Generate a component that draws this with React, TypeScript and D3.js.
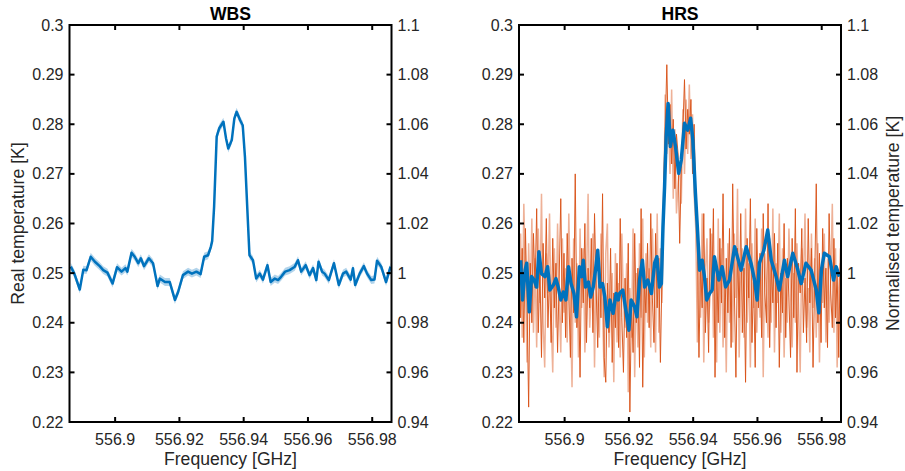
import React from 'react';
import * as d3 from 'd3';

// axes
const freqDomain = [556.8858, 556.986];
const tempDomain = [0.22, 0.3];
const normDomain = [0.94, 1.1];
const freqTicks = [556.9, 556.92, 556.94, 556.96, 556.98];
const tempTicks = [0.22, 0.23, 0.24, 0.25, 0.26, 0.27, 0.28, 0.29, 0.3];
const normTicks = [0.94, 0.96, 0.98, 1, 1.02, 1.04, 1.06, 1.08, 1.1];

// WBS spectrum (GHz, K)
const wbsFreq = [
  556.8862, 556.8873, 556.889, 556.8901, 556.8911, 556.8924, 556.8937, 556.8952, 556.8963, 556.8976,
  556.8992, 556.9006, 556.902, 556.9032, 556.9038, 556.9051, 556.9061, 556.9072, 556.908, 556.909,
  556.9105, 556.9118, 556.9132, 556.9139, 556.9155, 556.917, 556.9186, 556.9196, 556.9211, 556.9227,
  556.9239, 556.9253, 556.9266, 556.9277, 556.9289, 556.9298, 556.9302, 556.9308, 556.9316, 556.9324,
  556.9337, 556.9345, 556.9352, 556.9363, 556.9371, 556.9378, 556.9389, 556.9397, 556.9404, 556.9411,
  556.9418, 556.9429, 556.9439, 556.945, 556.946, 556.9474, 556.9484, 556.9497, 556.9507, 556.9517,
  556.9529, 556.9543, 556.9559, 556.9569, 556.9579, 556.9593, 556.9605, 556.9616, 556.9626, 556.9633,
  556.9644, 556.9652, 556.9665, 556.9681, 556.9696, 556.9709, 556.9719, 556.9733, 556.974, 556.9747,
  556.9761, 556.9774, 556.9784, 556.9797, 556.9807, 556.9815, 556.9828, 556.9843, 556.9857,
];
const wbsTemp = [
  0.2513, 0.2499, 0.2467, 0.2507, 0.2506, 0.2533, 0.2523, 0.2514, 0.2506, 0.2501,
  0.2479, 0.2512, 0.2503, 0.251, 0.2503, 0.2541, 0.2533, 0.252, 0.253, 0.2514,
  0.253, 0.252, 0.2474, 0.2489, 0.2482, 0.2482, 0.2446, 0.2462, 0.2496, 0.2503,
  0.2499, 0.2503, 0.2498, 0.2533, 0.2536, 0.2553, 0.2565, 0.2634, 0.2775, 0.2792,
  0.2805, 0.2772, 0.2751, 0.2768, 0.2812, 0.2825, 0.2808, 0.2798, 0.2734, 0.2634,
  0.2536, 0.2526, 0.2489, 0.2499, 0.2487, 0.2516, 0.2482, 0.2489, 0.2486, 0.2493,
  0.2503, 0.2506, 0.2513, 0.2526, 0.2503, 0.2516, 0.2496, 0.251, 0.2486, 0.2523,
  0.2503, 0.2499, 0.2486, 0.252, 0.2476, 0.2499, 0.2503, 0.2487, 0.251, 0.2476,
  0.2499, 0.2514, 0.2499, 0.2486, 0.2487, 0.2525, 0.2513, 0.2482, 0.2513,
];
const wbsSigma = 0.0008;

// HRS averaged spectrum (GHz, K)
const hrsAvgFreq = [
  556.8863, 556.8869, 556.8877, 556.8882, 556.889, 556.8897, 556.8905, 556.8913, 556.892, 556.8928,
  556.8939, 556.8947, 556.8954, 556.8965, 556.8973, 556.898, 556.8988, 556.8996, 556.9004, 556.9012,
  556.902, 556.9029, 556.9037, 556.9046, 556.9053, 556.9058, 556.9065, 556.9074, 556.9081, 556.9089,
  556.9096, 556.9103, 556.911, 556.9118, 556.9125, 556.9133, 556.9141, 556.9151, 556.916, 556.9167,
  556.9171, 556.9181, 556.9192, 556.92, 556.9207, 556.9218, 556.9225, 556.9233, 556.9242, 556.9249,
  556.9259, 556.927, 556.928, 556.9287, 556.9295, 556.9301, 556.9306, 556.9311, 556.9316, 556.9322,
  556.9329, 556.9337, 556.9345, 556.9355, 556.9363, 556.9373, 556.9383, 556.9392, 556.9399, 556.9407,
  556.9414, 556.942, 556.9428, 556.9435, 556.9442, 556.9451, 556.9459, 556.9466, 556.948, 556.949,
  556.9501, 556.9513, 556.9529, 556.9549, 556.9565, 556.958, 556.9591, 556.9599, 556.9606, 556.962,
  556.9632, 556.9643, 556.9658, 556.9668, 556.9684, 556.9694, 556.971, 556.9723, 556.9736, 556.9751,
  556.9767, 556.9783, 556.9791, 556.9799, 556.9808, 556.9824, 556.9837, 556.9845, 556.9855,
];
const hrsAvgTemp = [
  0.2526, 0.2446, 0.2506, 0.252, 0.2422, 0.2493, 0.2486, 0.2472, 0.2543, 0.2499,
  0.2493, 0.2513, 0.2466, 0.2476, 0.2489, 0.2472, 0.2446, 0.2462, 0.2446, 0.2513,
  0.2479, 0.2459, 0.2412, 0.2513, 0.2493, 0.2526, 0.2472, 0.2482, 0.2452, 0.2472,
  0.2506, 0.2546, 0.2472, 0.2479, 0.2452, 0.2392, 0.2446, 0.2419, 0.2459, 0.2446,
  0.2459, 0.2466, 0.2419, 0.2385, 0.2446, 0.2432, 0.2412, 0.2486, 0.2526, 0.2472,
  0.2486, 0.2459, 0.252, 0.2533, 0.2472, 0.2479, 0.2593, 0.2674, 0.2775, 0.2842,
  0.2755, 0.2788, 0.2755, 0.2701, 0.2728, 0.2802, 0.2788, 0.2812, 0.2768, 0.2661,
  0.258, 0.2506, 0.2526, 0.2493, 0.2446, 0.2459, 0.2466, 0.2533, 0.2486, 0.2513,
  0.2472, 0.2486, 0.2553, 0.2506, 0.2553, 0.252, 0.2486, 0.2446, 0.252, 0.2546,
  0.2587, 0.2526, 0.2493, 0.2466, 0.2526, 0.2493, 0.254, 0.2513, 0.2479, 0.252,
  0.2506, 0.2466, 0.242, 0.2506, 0.254, 0.2533, 0.2486, 0.2513, 0.2493,
];

// HRS individual spectra on the channel grid
const hrsChanStart = 556.8858;
const hrsChanStep = 0.0005;
const hrsRawA = [
  0.262, 0.241, 0.255, 0.236, 0.259, 0.244, 0.223, 0.252, 0.24, 0.258,
  0.247, 0.263, 0.238, 0.251, 0.233, 0.256, 0.245, 0.261, 0.239, 0.25,
  0.236, 0.257, 0.243, 0.252, 0.234, 0.249, 0.265, 0.24, 0.254, 0.237,
  0.258, 0.246, 0.233, 0.253, 0.242, 0.27, 0.239, 0.249, 0.229, 0.255,
  0.244, 0.26, 0.236, 0.251, 0.243, 0.257, 0.238, 0.262, 0.247, 0.235,
  0.253, 0.241, 0.266, 0.233, 0.228, 0.248, 0.238, 0.255, 0.232, 0.246,
  0.239, 0.252, 0.235, 0.261, 0.241, 0.23, 0.249, 0.237, 0.256, 0.222,
  0.244, 0.234, 0.258, 0.24, 0.251, 0.231, 0.263, 0.227, 0.248, 0.242,
  0.256, 0.239, 0.262, 0.245, 0.236, 0.258, 0.243, 0.253, 0.232, 0.25,
  0.268, 0.279, 0.292, 0.276, 0.284, 0.272, 0.281, 0.267, 0.278, 0.274,
  0.256, 0.271, 0.279, 0.289, 0.275, 0.283, 0.278, 0.285, 0.27, 0.28,
  0.265, 0.255, 0.233, 0.252, 0.243, 0.262, 0.238, 0.249, 0.234, 0.259,
  0.246, 0.263, 0.229, 0.251, 0.24, 0.257, 0.244, 0.266, 0.237, 0.253,
  0.242, 0.259, 0.235, 0.268, 0.247, 0.229, 0.255, 0.241, 0.262, 0.238,
  0.251, 0.228, 0.257, 0.245, 0.265, 0.236, 0.249, 0.231, 0.259, 0.243,
  0.254, 0.237, 0.262, 0.246, 0.24, 0.264, 0.235, 0.252, 0.244, 0.258,
  0.239, 0.256, 0.231, 0.25, 0.242, 0.26, 0.237, 0.253, 0.245, 0.233,
  0.257, 0.241, 0.263, 0.23, 0.252, 0.246, 0.259, 0.238, 0.249, 0.236,
  0.261, 0.244, 0.255, 0.231, 0.248, 0.268, 0.24, 0.254, 0.236, 0.259,
  0.243, 0.251, 0.235, 0.262, 0.246, 0.239, 0.257, 0.241, 0.25, 0.233,
  0.255,
];
const hrsRawB = [
  0.245, 0.258, 0.237, 0.264, 0.249, 0.232, 0.256, 0.243, 0.261, 0.238,
  0.253, 0.235, 0.259, 0.244, 0.266, 0.24, 0.231, 0.254, 0.246, 0.262,
  0.241, 0.23, 0.255, 0.239, 0.26, 0.245, 0.234, 0.257, 0.242, 0.251,
  0.236, 0.262, 0.244, 0.227, 0.257, 0.24, 0.252, 0.233, 0.259, 0.243,
  0.255, 0.234, 0.248, 0.266, 0.239, 0.246, 0.258, 0.231, 0.252, 0.241,
  0.237, 0.258, 0.243, 0.229, 0.254, 0.26, 0.235, 0.243, 0.25, 0.228,
  0.254, 0.236, 0.248, 0.233, 0.258, 0.244, 0.239, 0.252, 0.226, 0.247,
  0.237, 0.259, 0.229, 0.25, 0.235, 0.256, 0.241, 0.261, 0.233, 0.254,
  0.24, 0.251, 0.235, 0.259, 0.247, 0.234, 0.262, 0.238, 0.255, 0.244,
  0.262, 0.286, 0.274, 0.282, 0.27, 0.287, 0.265, 0.279, 0.262, 0.268,
  0.272, 0.264, 0.283, 0.27, 0.285, 0.274, 0.288, 0.273, 0.282, 0.266,
  0.259, 0.236, 0.256, 0.241, 0.262, 0.232, 0.25, 0.257, 0.24, 0.246,
  0.258, 0.237, 0.253, 0.232, 0.261, 0.238, 0.255, 0.235, 0.249, 0.23,
  0.256, 0.24, 0.251, 0.236, 0.258, 0.245, 0.267, 0.233, 0.248, 0.255,
  0.237, 0.263, 0.24, 0.252, 0.231, 0.256, 0.243, 0.261, 0.238, 0.25,
  0.241, 0.259, 0.229, 0.254, 0.247, 0.237, 0.257, 0.24, 0.263, 0.234,
  0.252, 0.244, 0.262, 0.238, 0.255, 0.233, 0.249, 0.24, 0.259, 0.246,
  0.235, 0.25, 0.24, 0.256, 0.243, 0.23, 0.255, 0.248, 0.262, 0.239,
  0.247, 0.234, 0.258, 0.243, 0.253, 0.237, 0.256, 0.232, 0.25, 0.244,
  0.258, 0.236, 0.253, 0.24, 0.249, 0.264, 0.238, 0.255, 0.231, 0.247,
  0.252,
];

const BLUE = '#0072BD';
const ORANGE = '#D95319';
const FONT = '"Liberation Sans", Arial, Helvetica, sans-serif';

const TOP = 25;
const BOTTOM = 422;

const fmt = (v: number) => String(+v.toFixed(2));

type Pt = [number, number];

const Panel = ({ id, left, right, title, yLabel, yLabelSide, children }: any) => {
  const x = d3.scaleLinear().domain(freqDomain).range([left, right]);
  const y = d3.scaleLinear().domain(tempDomain).range([BOTTOM, TOP]);
  const yn = d3.scaleLinear().domain(normDomain).range([BOTTOM, TOP]);
  const tick = 5;
  return (
    <g>
      <defs>
        <clipPath id={id}>
          <rect x={left} y={TOP} width={right - left} height={BOTTOM - TOP} />
        </clipPath>
      </defs>
      <g clipPath={`url(#${id})`}>{children(x, y)}</g>
      {/* frame */}
      <rect x={left} y={TOP} width={right - left} height={BOTTOM - TOP} fill="none" stroke="#000" strokeWidth={2} />
      {/* x ticks */}
      {freqTicks.map(t => (
        <g key={'x' + t}>
          <line x1={x(t)} x2={x(t)} y1={BOTTOM} y2={BOTTOM - tick} stroke="#000" strokeWidth={2} />
          <line x1={x(t)} x2={x(t)} y1={TOP} y2={TOP + tick} stroke="#000" strokeWidth={2} />
          <text x={x(t)} y={444.5} textAnchor="middle" fontSize={16} fontFamily={FONT} fill="#262626">{fmt(t)}</text>
        </g>
      ))}
      {tempTicks.map(t => (
        <g key={'y' + t}>
          <line x1={left} x2={left + tick} y1={y(t)} y2={y(t)} stroke="#000" strokeWidth={2} />
          <text x={left - 6} y={y(t)} dy="0.35em" textAnchor="end" fontSize={16} fontFamily={FONT} fill="#262626">{fmt(t)}</text>
        </g>
      ))}
      {normTicks.map(t => (
        <g key={'n' + t}>
          <line x1={right} x2={right - tick} y1={yn(t)} y2={yn(t)} stroke="#000" strokeWidth={2} />
          <text x={right + 6} y={yn(t)} dy="0.35em" textAnchor="start" fontSize={16} fontFamily={FONT} fill="#262626">{fmt(t)}</text>
        </g>
      ))}
      <text x={(left + right) / 2} y={20} textAnchor="middle" fontSize={17.6} fontWeight="bold" fontFamily={FONT} fill="#000">{title}</text>
      <text x={(left + right) / 2} y={465} textAnchor="middle" fontSize={17.6} fontFamily={FONT} fill="#262626">Frequency [GHz]</text>
      {yLabel && (
        <text
          transform={`translate(${yLabelSide === 'left' ? 24 : 899},${(TOP + BOTTOM) / 2}) rotate(-90)`}
          textAnchor="middle"
          fontSize={17.6}
          fontFamily={FONT}
          fill="#262626"
        >
          {yLabel}
        </text>
      )}
    </g>
  );
};

const App = () => {
  const wbsPts: Pt[] = wbsFreq.map((f, i) => [f, wbsTemp[i]]);
  const hrsPts: Pt[] = hrsAvgFreq.map((f, i) => [f, hrsAvgTemp[i]]);
  const rawA: Pt[] = hrsRawA.map((t, i) => [hrsChanStart + i * hrsChanStep, t]);
  const rawB: Pt[] = hrsRawB.map((t, i) => [hrsChanStart + i * hrsChanStep, t]);

  return (
    <svg width={905} height={471} style={{ position: 'absolute', left: 0, top: 0, background: '#fff' }}>
      <rect width={905} height={471} fill="#fff" />
      <Panel id="clipWbs" left={69.5} right={391.5} title="WBS" yLabel="Real temperature [K]" yLabelSide="left">
        {(x: any, y: any) => {
          const line = d3.line<Pt>().x(d => x(d[0])).y(d => y(d[1]));
          const band = d3.area<Pt>().x(d => x(d[0])).y0(d => y(d[1] - wbsSigma)).y1(d => y(d[1] + wbsSigma));
          return (
            <g>
              <path d={band(wbsPts) || ''} fill={BLUE} opacity={0.3} />
              <path d={line(wbsPts) || ''} fill="none" stroke={BLUE} strokeWidth={2.5} strokeLinejoin="round" />
            </g>
          );
        }}
      </Panel>
      <Panel id="clipHrs" left={519} right={841} title="HRS" yLabel="Normalised temperature [K]" yLabelSide="right">
        {(x: any, y: any) => {
          const line = d3.line<Pt>().x(d => x(d[0])).y(d => y(d[1]));
          return (
            <g>
              <path d={line(rawB) || ''} fill="none" stroke={ORANGE} strokeWidth={1.5} opacity={0.45} />
              <path d={line(rawA) || ''} fill="none" stroke={ORANGE} strokeWidth={1} opacity={0.95} />
              <path d={line(hrsPts) || ''} fill="none" stroke={BLUE} strokeWidth={3.5} strokeLinejoin="round" />
            </g>
          );
        }}
      </Panel>
    </svg>
  );
};

export default App;
